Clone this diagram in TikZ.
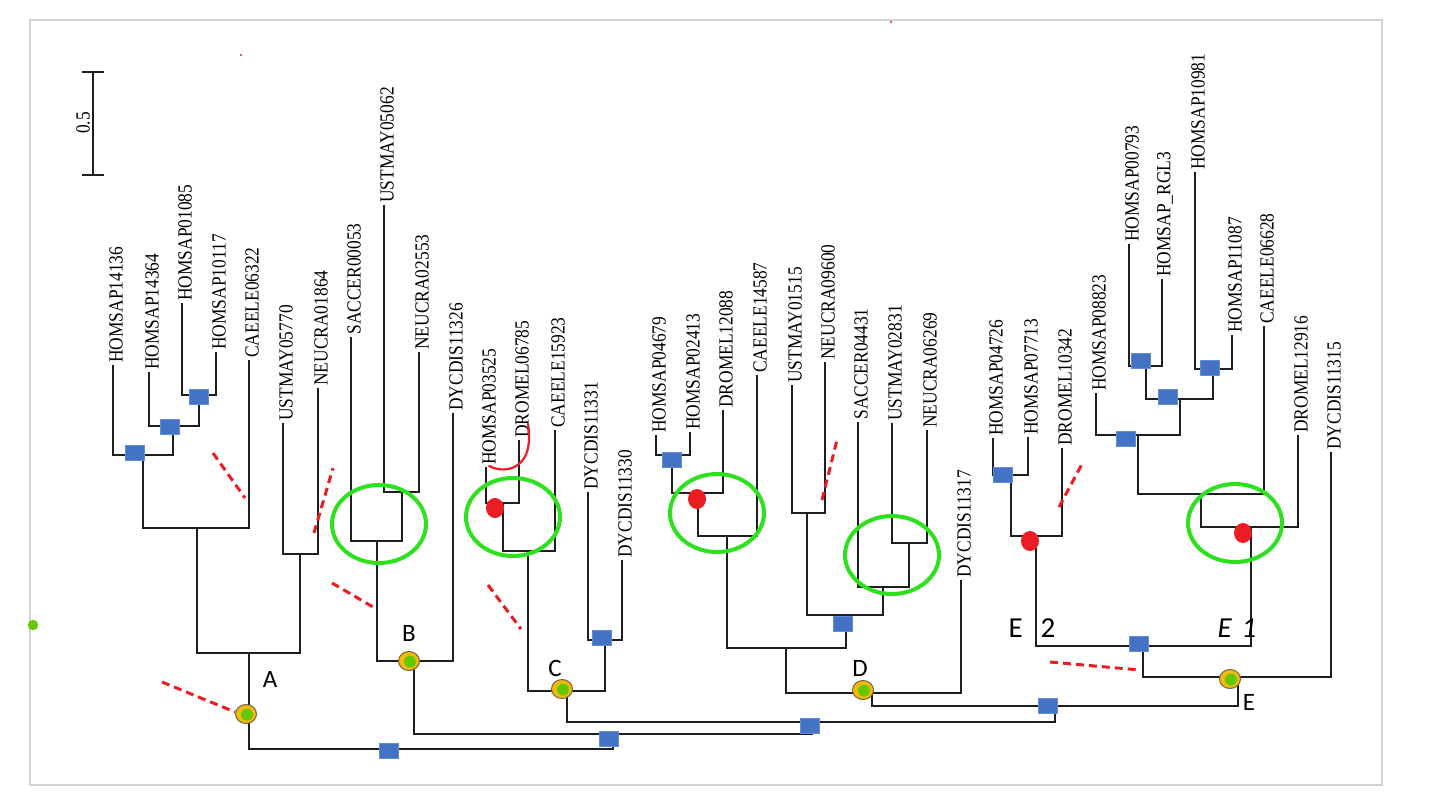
\documentclass[tikz,border=0pt]{standalone}
\usepackage{fontspec}
\setmainfont{Liberation Serif}
\newfontfamily\labfont[FakeStretch=0.87]{Liberation Serif}
\newfontfamily\calib{Carlito}
\usetikzlibrary{shapes.geometric}
\definecolor{treec}{RGB}{30,30,30}
\definecolor{sqblue}{RGB}{68,114,196}
\definecolor{sqedge}{RGB}{100,140,210}
\definecolor{orangec}{RGB}{242,186,10}
\definecolor{orbedge}{RGB}{110,100,70}
\definecolor{innerg}{RGB}{100,200,0}
\definecolor{ringc}{RGB}{45,225,30}
\definecolor{redc}{RGB}{235,28,36}
\definecolor{framec}{RGB}{210,210,210}
\begin{document}
\begin{tikzpicture}[x=0.5pt,y=-0.5pt,
  br/.style={line width=0.75pt, draw=treec},
  lab/.style={rotate=90, anchor=west, inner sep=1pt, font=\labfont\fontsize{10}{12}\selectfont, text=black},
  dup/.style={rectangle, fill=sqblue, draw=sqedge, line width=0.4pt, minimum width=9.5pt, minimum height=7.5pt, inner sep=0pt},
  orb/.style={ellipse, fill=orangec, draw=orbedge, line width=0.5pt, minimum width=10.5pt, minimum height=9.5pt, inner sep=0pt},
  ring/.style={ellipse, draw=ringc, line width=2pt, minimum width=47pt, minimum height=39pt, inner sep=0pt},
  reddot/.style={ellipse, fill=redc, minimum width=9pt, minimum height=10pt, inner sep=0pt},
  rdash/.style={draw=redc, line width=1.5pt, dash pattern=on 4pt off 2.5pt},
  clade/.style={font=\calib\fontsize{12.5}{14}\selectfont, inner sep=0pt, text=black},
  hand/.style={font=\calib\fontsize{14.5}{16}\selectfont, inner sep=0pt, text=black}]
\useasboundingbox (0,0) rectangle (1440,810);
\fill[white] (0,0) rectangle (1440,810);
% frame
\draw[framec, line width=0.75pt] (30,20) rectangle (1382,785);
\fill[innerg] (33,625) circle[radius=2.6pt];
\fill[redc] (241,55) circle[radius=0.6pt];
\fill[redc] (891,22) circle[radius=0.6pt];
% scale bar
\coordinate (sb1) at (93,72);
\coordinate (sb2) at (93,175);
\draw[br] (sb1) -- (sb2);
\draw[br] ([xshift=-5.5pt]sb1) -- ([xshift=5.5pt]sb1);
\draw[br] ([xshift=-5.5pt]sb2) -- ([xshift=5.5pt]sb2);
\node[rotate=90, font=\labfont\fontsize{10}{12}\selectfont, inner sep=0pt] (sbl) at (83,123) {0.5};

% leaves
\coordinate (L1) at (113,365);
\coordinate (L2) at (149,372);
\coordinate (L3) at (182,303);
\coordinate (L4) at (216,352);
\coordinate (L5) at (249,360);
\coordinate (L6) at (283,423);
\coordinate (L7) at (318,388);
\coordinate (L8) at (351,337);
\coordinate (L9) at (384,205);
\coordinate (L10) at (419,352);
\coordinate (L11) at (453,413);
\coordinate (L12) at (486,467);
\coordinate (L13) at (519,440);
\coordinate (L14) at (555,430);
\coordinate (L15) at (588,492);
\coordinate (L16) at (622,560);
\coordinate (L17) at (656,435);
\coordinate (L18) at (690,432);
\coordinate (L19) at (723,410);
\coordinate (L20) at (757,375);
\coordinate (L21) at (792,385);
\coordinate (L22) at (825,362);
\coordinate (L23) at (858,422);
\coordinate (L24) at (892,423);
\coordinate (L25) at (927,430);
\coordinate (L26) at (961,580);
\coordinate (L27) at (993,438);
\coordinate (L28) at (1028,437);
\coordinate (L29) at (1062,448);
\coordinate (L30) at (1096,393);
\coordinate (L31) at (1129,244);
\coordinate (L32) at (1162,279);
\coordinate (L33) at (1195,172);
\coordinate (L34) at (1232,335);
\coordinate (L35) at (1264,326);
\coordinate (L36) at (1298,435);
\coordinate (L37) at (1331,452);

% internal nodes (stem x, bar y)
\coordinate (n1) at (199,395);
\coordinate (n2) at (173,426);
\coordinate (n3) at (143,455);
\coordinate (n4) at (197,528);
\coordinate (n5) at (300,554);
\coordinate (nA) at (249,653);
\coordinate (b1) at (402,492);
\coordinate (b2) at (377,541);
\coordinate (nB) at (414,661);
\coordinate (c1) at (503,503);
\coordinate (c2) at (528,551);
\coordinate (c3) at (605,640);
\coordinate (nC) at (567,691);
\coordinate (d1) at (672,455);
\coordinate (d2) at (698,493);
\coordinate (d3) at (727,536);
\coordinate (d4) at (807,513);
\coordinate (d5) at (909,543);
\coordinate (d6) at (883,587);
\coordinate (d7) at (846,615);
\coordinate (d8) at (786,648);
\coordinate (nD) at (872,693);
\coordinate (e1) at (1011,475);
\coordinate (e2) at (1036,536);
\coordinate (e3) at (1146,366);
\coordinate (e4) at (1213,369);
\coordinate (e5) at (1180,399);
\coordinate (e6) at (1138,435);
\coordinate (e7) at (1201,494);
\coordinate (e8) at (1251,527);
\coordinate (e9) at (1143,646);
\coordinate (nE) at (1238,677);
\coordinate (x3) at (1055,706);
\coordinate (x2) at (812,722);
\coordinate (x1) at (613,734);
\coordinate (root) at (430,749);

% branches
\draw[br] (L3) |- (n1); \draw[br] (L4) |- (n1);
\draw[br] (L2) |- (n2); \draw[br] (n1) |- (n2);
\draw[br] (L1) |- (n3); \draw[br] (n2) |- (n3);
\draw[br] (n3) |- (n4); \draw[br] (L5) |- (n4);
\draw[br] (L6) |- (n5); \draw[br] (L7) |- (n5);
\draw[br] (n4) |- (nA); \draw[br] (n5) |- (nA);
\draw[br] (L9) |- (b1); \draw[br] (L10) |- (b1);
\draw[br] (L8) |- (b2); \draw[br] (b1) |- (b2);
\draw[br] (b2) |- (nB); \draw[br] (L11) |- (nB);
\draw[br] (L12) |- (c1); \draw[br] (L13) |- (c1);
\draw[br] (c1) |- (c2); \draw[br] (L14) |- (c2);
\draw[br] (L15) |- (c3); \draw[br] (L16) |- (c3);
\draw[br] (c2) |- (nC); \draw[br] (c3) |- (nC);
\draw[br] (L17) |- (d1); \draw[br] (L18) |- (d1);
\draw[br] (d1) |- (d2); \draw[br] (L19) |- (d2);
\draw[br] (d2) |- (d3); \draw[br] (L20) |- (d3);
\draw[br] (L21) |- (d4); \draw[br] (L22) |- (d4);
\draw[br] (L24) |- (d5); \draw[br] (L25) |- (d5);
\draw[br] (L23) |- (d6); \draw[br] (d5) |- (d6);
\draw[br] (d4) |- (d7); \draw[br] (d6) |- (d7);
\draw[br] (d3) |- (d8); \draw[br] (d7) |- (d8);
\draw[br] (d8) |- (nD); \draw[br] (L26) |- (nD);
\draw[br] (L27) |- (e1); \draw[br] (L28) |- (e1);
\draw[br] (e1) |- (e2); \draw[br] (L29) |- (e2);
\draw[br] (L31) |- (e3); \draw[br] (L32) |- (e3);
\draw[br] (L33) |- (e4); \draw[br] (L34) |- (e4);
\draw[br] (e3) |- (e5); \draw[br] (e4) |- (e5);
\draw[br] (L30) |- (e6); \draw[br] (e5) |- (e6);
\draw[br] (e6) |- (e7); \draw[br] (L35) |- (e7);
\draw[br] (e7) |- (e8); \draw[br] (L36) |- (e8);
\draw[br] (e2) |- (e9); \draw[br] (e8) |- (e9);
\draw[br] (e9) |- (nE); \draw[br] (L37) |- (nE);
\draw[br] (nD) |- (x3); \draw[br] (nE) |- (x3);
\draw[br] (nC) |- (x2); \draw[br] (x3) |- (x2);
\draw[br] (nB) |- (x1); \draw[br] (x2) |- (x1);
\draw[br] (nA) |- (root); \draw[br] (x1) |- (root);

% leaf labels
\node[lab] (t1) at ([xshift=1.5pt]L1) {HOMSAP14136};
\node[lab] (t2) at ([xshift=1.5pt]L2) {HOMSAP14364};
\node[lab] (t3) at ([xshift=1.5pt]L3) {HOMSAP01085};
\node[lab] (t4) at ([xshift=1.5pt]L4) {HOMSAP10117};
\node[lab] (t5) at ([xshift=1.5pt]L5) {CAEELE06322};
\node[lab] (t6) at ([xshift=1.5pt]L6) {USTMAY05770};
\node[lab] (t7) at ([xshift=1.5pt]L7) {NEUCRA01864};
\node[lab] (t8) at ([xshift=1.5pt]L8) {SACCER00053};
\node[lab] (t9) at ([xshift=1.5pt]L9) {USTMAY05062};
\node[lab] (t10) at ([xshift=1.5pt]L10) {NEUCRA02553};
\node[lab] (t11) at ([xshift=1.5pt]L11) {DYCDIS11326};
\node[lab] (t12) at ([xshift=1.5pt]L12) {HOMSAP03525};
\node[lab] (t13) at ([xshift=1.5pt]L13) {DROMEL06785};
\node[lab] (t14) at ([xshift=1.5pt]L14) {CAEELE15923};
\node[lab] (t15) at ([xshift=1.5pt]L15) {DYCDIS11331};
\node[lab] (t16) at ([xshift=1.5pt]L16) {DYCDIS11330};
\node[lab] (t17) at ([xshift=1.5pt]L17) {HOMSAP04679};
\node[lab] (t18) at ([xshift=1.5pt]L18) {HOMSAP02413};
\node[lab] (t19) at ([xshift=1.5pt]L19) {DROMEL12088};
\node[lab] (t20) at ([xshift=1.5pt]L20) {CAEELE14587};
\node[lab] (t21) at ([xshift=1.5pt]L21) {USTMAY01515};
\node[lab] (t22) at ([xshift=1.5pt]L22) {NEUCRA09600};
\node[lab] (t23) at ([xshift=1.5pt]L23) {SACCER04431};
\node[lab] (t24) at ([xshift=1.5pt]L24) {USTMAY02831};
\node[lab] (t25) at ([xshift=1.5pt]L25) {NEUCRA06269};
\node[lab] (t26) at ([xshift=1.5pt]L26) {DYCDIS11317};
\node[lab] (t27) at ([xshift=1.5pt]L27) {HOMSAP04726};
\node[lab] (t28) at ([xshift=1.5pt]L28) {HOMSAP07713};
\node[lab] (t29) at ([xshift=1.5pt]L29) {DROMEL10342};
\node[lab] (t30) at ([xshift=1.5pt]L30) {HOMSAP08823};
\node[lab] (t31) at ([xshift=1.5pt]L31) {HOMSAP00793};
\node[lab] (t32) at ([xshift=1.5pt]L32) {HOMSAP\_RGL3};
\node[lab] (t33) at ([xshift=1.5pt]L33) {HOMSAP10981};
\node[lab] (t34) at ([xshift=1.5pt]L34) {HOMSAP11087};
\node[lab] (t35) at ([xshift=1.5pt]L35) {CAEELE06628};
\node[lab] (t36) at ([xshift=1.5pt]L36) {DROMEL12916};
\node[lab] (t37) at ([xshift=1.5pt]L37) {DYCDIS11315};

% green rings
\node[ring] (gB) at (379,524) {};
\node[ring] (gC) at (513,517) {};
\node[ring] (gD1) at (717,513) {};
\node[ring] (gD2) at (892,555) {};
\node[ring] (gE1) at (1235,523) {};

% duplication squares
\node[dup] (s1) at (199,397) {};
\node[dup] (s2) at (170,427) {};
\node[dup] (s3) at (135,453) {};
\node[dup] (sr) at (389,751) {};
\node[dup] (sx1) at (609,739) {};
\node[dup] (sx2) at (810,726) {};
\node[dup] (sx3) at (1048,706) {};
\node[dup] (sc3) at (602,638) {};
\node[dup] (sd1) at (672,460) {};
\node[dup] (sd7) at (843,624) {};
\node[dup] (se1) at (1003,475) {};
\node[dup] (se3) at (1141,361) {};
\node[dup] (se4) at (1210,368) {};
\node[dup] (se5) at (1168,397) {};
\node[dup] (se6) at (1126,439) {};
\node[dup] (se9) at (1139,644) {};

% orange clade markers
\node[orb] (oA) at (246,714) {};
\node[orb] (oB) at (409,661) {};
\node[orb] (oC) at (562,689) {};
\node[orb] (oD) at (863,690) {};
\node[orb] (oE) at (1230,679) {};
\foreach \o in {oA,oB,oC,oD,oE} \fill[innerg] ([xshift=0.5pt,yshift=-0.3pt]\o.center) circle[radius=3pt];

% red dots
\node[reddot] (r1) at (495,508) {};
\node[reddot] (r2) at (697,499) {};
\node[reddot] (r3) at (1030,541) {};
\node[reddot] (r4) at (1243,533) {};

% red dashed marks
\draw[rdash] (213,453) -- (245,498);
\draw[rdash] (314,533) -- (333,468);
\draw[rdash] (162,682) -- (235,712);
\draw[rdash] (332,583) -- (373,607);
\draw[rdash] (488,585) -- (521,629);
\draw[rdash] (822,500) -- (837,440);
\draw[rdash] (1059,507) -- (1082,464);
\draw[rdash] (1050,662) -- (1140,670);
% red hand-drawn hook
\draw[redc, line width=1.1pt, line cap=round] (489,466) .. controls (505,474) and (524,468) .. (528,448) .. controls (530,438) and (529,430) .. (528,424);

% clade letters
\node[clade] (lA) at (270,679) {A};
\node[clade] (lB) at (409,633) {B};
\node[clade] (lC) at (555,668) {C};
\node[clade] (lD) at (860,668) {D};
\node[clade] (lE) at (1249,702) {E};
\node[hand] (lE2) at (1032,628) {E\hskip 9pt 2};
\node[hand] (lE1) at (1237,628) {\itshape E\hskip 5pt 1};
\end{tikzpicture}
\end{document}
